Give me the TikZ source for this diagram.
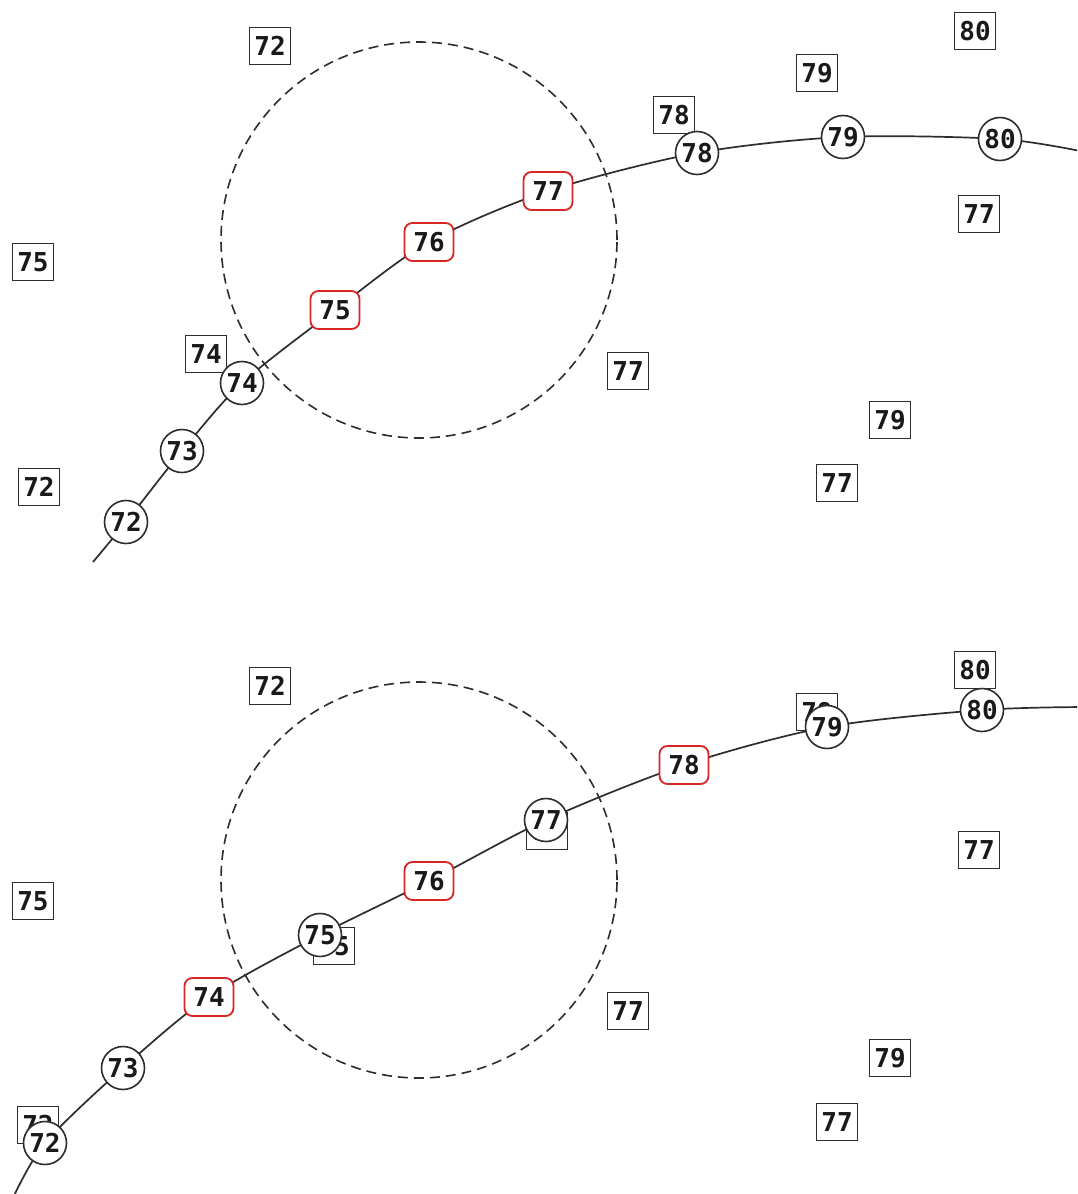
\documentclass[tikz,border=0pt]{standalone}
\usepackage{fontspec}
\setmonofont{DejaVu Sans Mono}
\definecolor{redbox}{RGB}{214,38,38}
\definecolor{edge}{RGB}{45,45,45}
\begin{document}
\begin{tikzpicture}[x=1pt,y=-1pt,
  every node/.style={font=\ttfamily\bfseries\fontsize{26}{30}\selectfont, inner sep=0pt, text=black!90},
  sq/.style={draw=edge, line width=1.6pt, fill=white, minimum width=41pt, minimum height=37pt},
  cnode/.style={circle, draw=edge, line width=1.6pt, fill=white, minimum size=43pt},
  rnode/.style={rectangle, rounded corners=8pt, draw=redbox, line width=1.8pt, fill=white, minimum width=49pt, minimum height=38pt},
  curve/.style={line width=1.7pt, draw=edge},
  zone/.style={line width=1.6pt, draw=edge, dash pattern=on 10pt off 6pt}]
\useasboundingbox (0,0) rectangle (1077,1194);
\clip (0,0) rectangle (1077,1194);
\fill[white] (0,0) rectangle (1077,1194);

% ---------- top panel ----------
\coordinate (ts) at (93,562);
\coordinate (te) at (1085,152);
\coordinate (t72) at (126,522);
\coordinate (t73) at (182,451);
\coordinate (t74) at (242,383);
\coordinate (t75) at (335,310);
\coordinate (t76) at (429,242);
\coordinate (t77) at (548,191);
\coordinate (t78) at (697,153);
\coordinate (t79) at (843,137);
\coordinate (t80) at (1000,139);
\coordinate (tzc) at (419,240);
\draw[zone] (tzc) circle[radius=198pt];
\draw[curve] plot[smooth] coordinates {(ts) (t72) (t73) (t74) (t75) (t76) (t77) (t78) (t79) (t80) (te)};

\node[sq] (ta) at (270,46) {72};
\node[sq] (tb) at (975,31) {80};
\node[sq] (tc) at (817,73) {79};
\node[sq] (td) at (674,115) {78};
\node[sq] (tf) at (33,262) {75};
\node[sq] (tg) at (206,354) {74};
\node[sq] (th) at (979,214) {77};
\node[sq] (ti) at (628,371) {77};
\node[sq] (tj) at (890,420) {79};
\node[sq] (tk) at (39,487) {72};
\node[sq] (tl) at (837,483) {77};

\node[cnode] (n72) at (t72) {72};
\node[cnode] (n73) at (t73) {73};
\node[cnode] (n74) at (t74) {74};
\node[rnode] (n75) at (t75) {75};
\node[rnode] (n76) at (t76) {76};
\node[rnode] (n77) at (t77) {77};
\node[cnode] (n78) at (t78) {78};
\node[cnode] (n79) at (t79) {79};
\node[cnode] (n80) at (t80) {80};

% ---------- bottom panel ----------
\coordinate (bs) at (12,1200);
\coordinate (be) at (1085,707);
\coordinate (b72) at (45,1143);
\coordinate (b73) at (123,1068);
\coordinate (b74) at (209,997);
\coordinate (b75) at (320,935);
\coordinate (b76) at (429,881);
\coordinate (b77) at (546,820);
\coordinate (b78) at (684,765);
\coordinate (b79) at (827,727);
\coordinate (b80) at (982,710);
\coordinate (bzc) at (419,880);
\draw[zone] (bzc) circle[radius=198pt];
\draw[curve] plot[smooth] coordinates {(bs) (b72) (b73) (b74) (b75) (b76) (b77) (b78) (b79) (b80) (be)};

\node[sq] (ba) at (270,686) {72};
\node[sq] (bb) at (975,670) {80};
\node[sq] (bc) at (817,712) {79};
\node[sq] (bf) at (33,901) {75};
\node[sq] (bg) at (334,946) {75};
\node[sq] (bh) at (979,850) {77};
\node[sq] (bi) at (547,831) {77};
\node[sq] (bj) at (628,1011) {77};
\node[sq] (bk) at (890,1058) {79};
\node[sq] (bl) at (38,1125) {72};
\node[sq] (bm) at (837,1122) {77};

\node[cnode] (m72) at (b72) {72};
\node[cnode] (m73) at (b73) {73};
\node[rnode] (m74) at (b74) {74};
\node[cnode] (m75) at (b75) {75};
\node[rnode] (m76) at (b76) {76};
\node[cnode] (m77) at (b77) {77};
\node[rnode] (m78) at (b78) {78};
\node[cnode] (m79) at (b79) {79};
\node[cnode] (m80) at (b80) {80};
\end{tikzpicture}
\end{document}
